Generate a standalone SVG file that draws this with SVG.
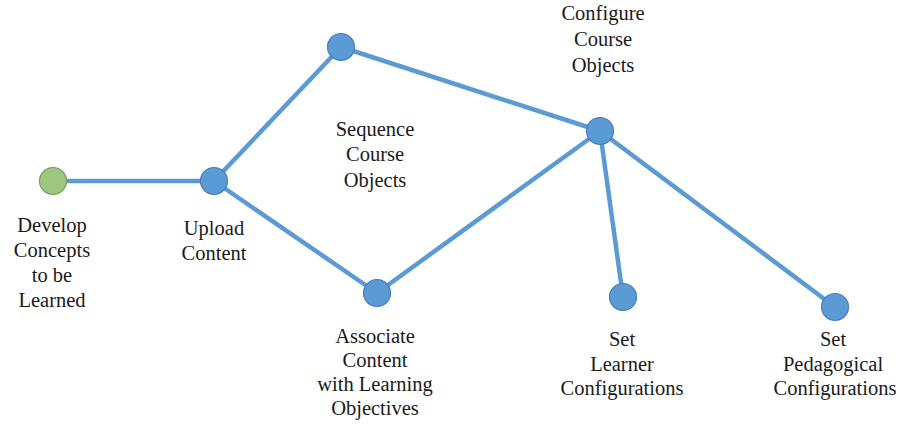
<svg xmlns="http://www.w3.org/2000/svg" width="899" height="425" viewBox="0 0 899 425">
<style>
.edge{stroke:#5B9BD5;stroke-width:4.5;fill:none;stroke-linecap:round}
.n{fill:#5B9BD5;stroke:#4A7EBB;stroke-width:1.2}
.g{fill:#9DC77F;stroke:#7A9A6A;stroke-width:1.2}
text{font-family:"Liberation Serif","Times New Roman",serif;font-size:20.5px;fill:#1a1a1a;text-anchor:middle}
</style>
<rect width="899" height="425" fill="#ffffff"/>
<g id="connectors">
<line class="edge" x1="53" y1="181" x2="214" y2="181"/>
<line class="edge" x1="214" y1="181" x2="341" y2="47"/>
<line class="edge" x1="214" y1="181" x2="377" y2="293"/>
<line class="edge" x1="341" y1="47" x2="600" y2="131"/>
<line class="edge" x1="377" y1="293" x2="600" y2="131"/>
<line class="edge" x1="600" y1="131" x2="623" y2="297"/>
<line class="edge" x1="600" y1="131" x2="835" y2="307"/>
</g>
<g id="develop">
<circle class="g" cx="53" cy="181" r="13.5"/>
<text x="52" y="232">Develop</text>
<text x="52" y="257">Concepts</text>
<text x="52" y="282">to be</text>
<text x="52" y="307">Learned</text>
</g>
<g id="upload">
<circle class="n" cx="214" cy="181" r="13.5"/>
<text x="214" y="235">Upload</text>
<text x="214" y="260">Content</text>
</g>
<g id="sequence">
<circle class="n" cx="341" cy="47" r="13.5"/>
<text x="375" y="136">Sequence</text>
<text x="375" y="161">Course</text>
<text x="375" y="187">Objects</text>
</g>
<g id="associate">
<circle class="n" cx="377" cy="293" r="13.5"/>
<text x="375" y="343">Associate</text>
<text x="375" y="367">Content</text>
<text x="375" y="391">with Learning</text>
<text x="375" y="415">Objectives</text>
</g>
<g id="configure">
<circle class="n" cx="600" cy="131" r="13.5"/>
<text x="603" y="20">Configure</text>
<text x="603" y="46">Course</text>
<text x="603" y="72">Objects</text>
</g>
<g id="learner">
<circle class="n" cx="623" cy="297" r="13.5"/>
<text x="622" y="346">Set</text>
<text x="622" y="371">Learner</text>
<text x="622" y="395">Configurations</text>
</g>
<g id="pedagogical">
<circle class="n" cx="835" cy="307" r="13.5"/>
<text x="833" y="346">Set</text>
<text x="833" y="371">Pedagogical</text>
<text x="835" y="395">Configurations</text>
</g>
</svg>
